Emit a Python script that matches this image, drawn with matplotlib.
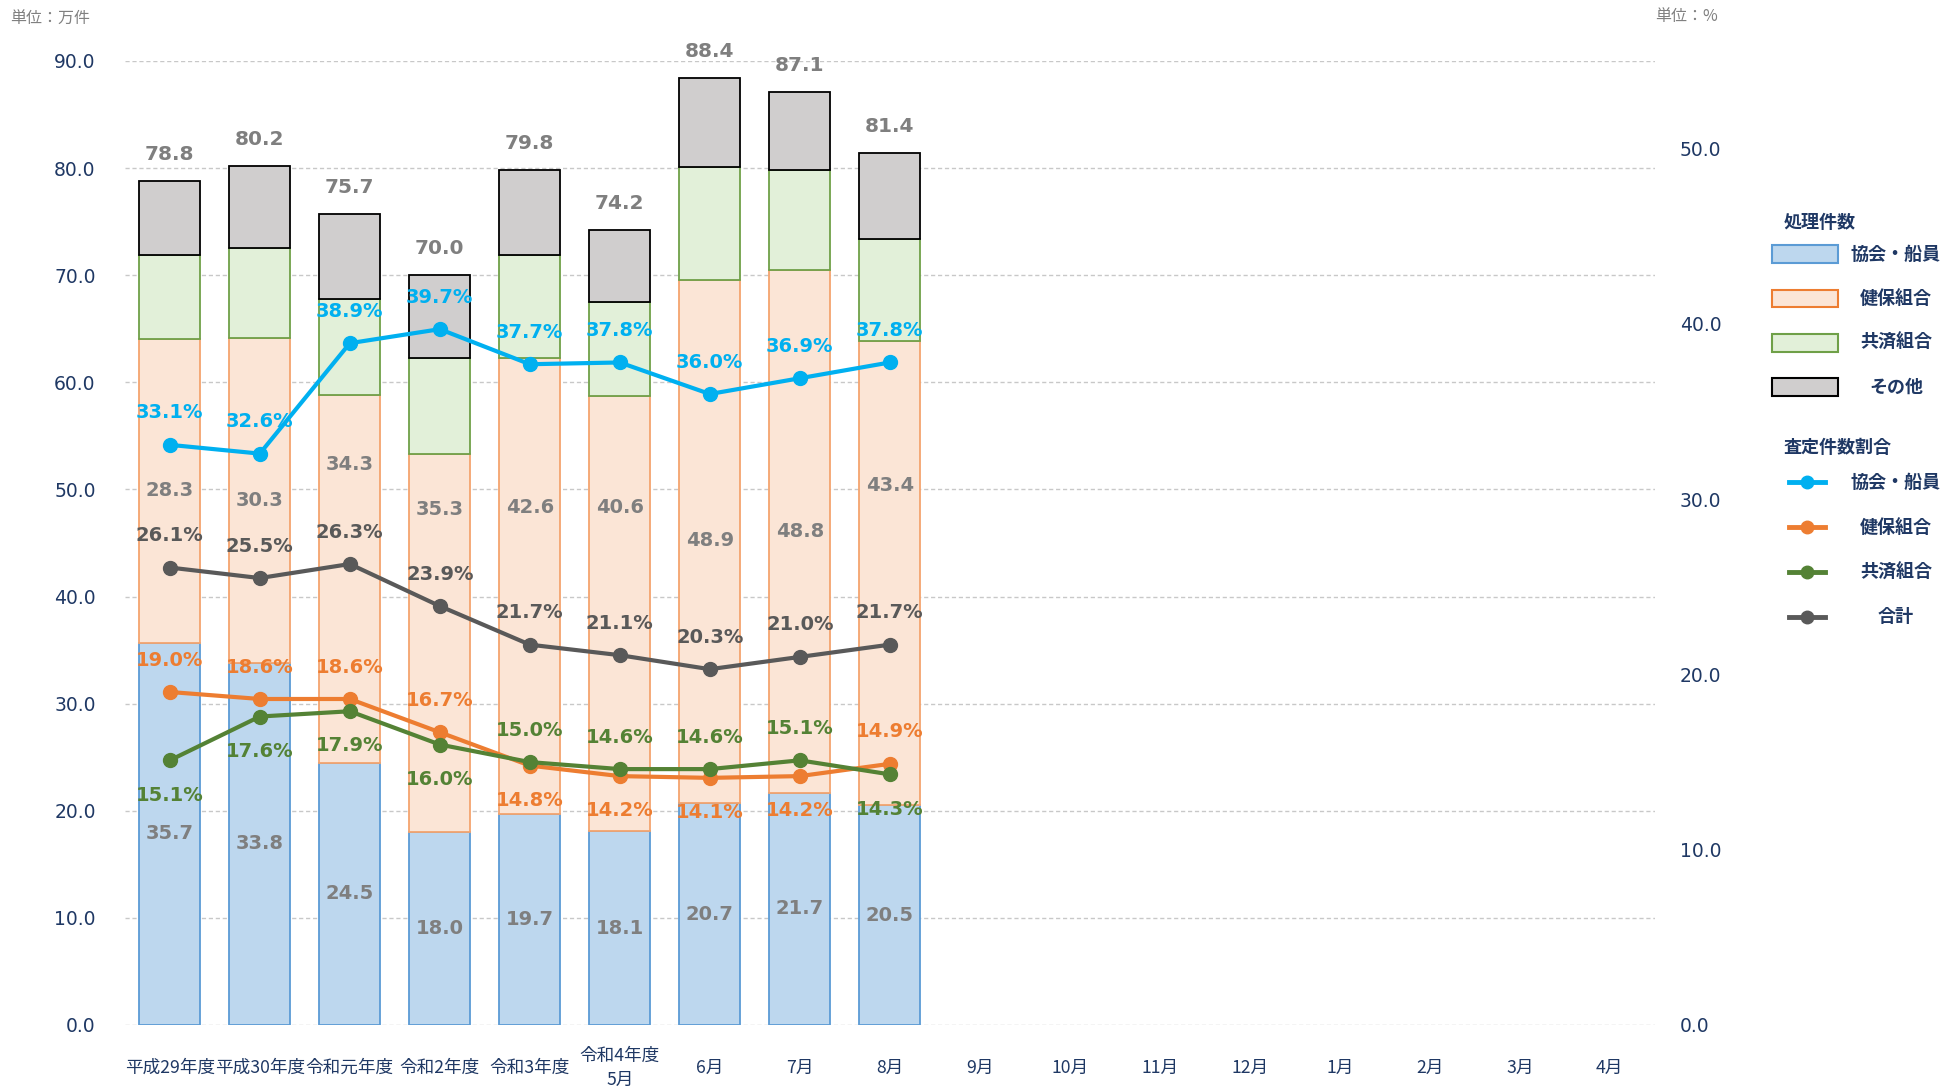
import numpy as np
import matplotlib.pyplot as plt
from matplotlib.patches import Rectangle
from matplotlib.lines import Line2D

plt.rcParams['font.family'] = ['DejaVu Sans', 'Noto Sans CJK JP']

categories = ['平成29年度', '平成30年度', '令和元年度', '令和2年度', '令和3年度',
              '令和4年度\n5月', '6月', '7月', '8月', '9月', '10月', '11月', '12月',
              '1月', '2月', '3月', '4月']

# 処理件数（万件）
kyokai = [35.7, 33.8, 24.5, 18.0, 19.7, 18.1, 20.7, 21.7, 20.5]
kenpo = [28.3, 30.3, 34.3, 35.3, 42.6, 40.6, 48.9, 48.8, 43.4]
kyosai = [7.9, 8.4, 9.0, 9.0, 9.6, 8.8, 10.5, 9.3, 9.5]
sonota = [6.9, 7.7, 7.9, 7.7, 7.9, 6.7, 8.3, 7.3, 8.0]

# 健保組合ラベルの高さ（元の図で手動で動かしてある）
kenpo_label_y = [49.9, 49.0, 52.3, 48.1, 48.3, 48.3, 45.2, 46.1, 50.4]

# 査定件数割合（%）
rate_kyokai = [33.1, 32.6, 38.9, 39.7, 37.7, 37.8, 36.0, 36.9, 37.8]
rate_kenpo = [19.0, 18.6, 18.6, 16.7, 14.8, 14.2, 14.1, 14.2, 14.9]
rate_kyosai = [15.1, 17.6, 17.9, 16.0, 15.0, 14.6, 14.6, 15.1, 14.3]
rate_total = [26.1, 25.5, 26.3, 23.9, 21.7, 21.1, 20.3, 21.0, 21.7]

# ラベルを点の上(1)に置くか下(-1)に置くか
side_kyokai = [1] * 9
side_kenpo = [1, 1, 1, 1, -1, -1, -1, -1, 1]
side_kyosai = [-1, -1, -1, -1, 1, 1, 1, 1, -1]
side_total = [1] * 9

NAVY = '#1F3864'
GRAY = '#7F7F7F'
W, H = 1941, 1088

fig = plt.figure(figsize=(W / 100, H / 100), dpi=100)
ax = fig.add_axes([124.8 / W, 63 / H, 1530 / W, 964 / H])

n = len(kyokai)
x = np.arange(n)

stacks = [
    (kyokai, '#BDD7EE', '#5B9BD5', '協会・船員'),
    (kenpo, '#FBE5D6', '#F4A46E', '健保組合'),
    (kyosai, '#E2F0D9', '#6FA048', '共済組合'),
    (sonota, '#D0CECE', '#000000', 'その他'),
]
bottom = np.zeros(n)
for vals, fc, ec, name in stacks:
    vals = np.array(vals)
    ax.bar(x, vals, 0.68, bottom=bottom, color=fc, edgecolor=ec,
           linewidth=1.3, zorder=2)
    if name == '協会・船員':
        for xi, b, v in zip(x, bottom, vals):
            ax.text(xi, b + v / 2, f'{v:.1f}', ha='center', va='center',
                    fontsize=14, fontweight='bold', color=GRAY, zorder=3)
    elif name == '健保組合':
        for xi, ly, v in zip(x, kenpo_label_y, vals):
            ax.text(xi, ly, f'{v:.1f}', ha='center', va='center',
                    fontsize=14, fontweight='bold', color=GRAY, zorder=3)
    bottom = bottom + vals

for xi, t in zip(x, bottom):
    ax.annotate(f'{t:.1f}', (xi, t), xytext=(0, 19), textcoords='offset points',
                ha='center', va='center', fontsize=14.5, fontweight='bold', color=GRAY)

ax.set_xlim(-0.5, len(categories) - 0.5)
ax.set_ylim(0, 90)
ax.set_yticks(np.arange(0, 91, 10))
ax.set_yticklabels([f'{v:.1f}' for v in np.arange(0, 91, 10)])
ax.set_xticks(np.arange(len(categories)))
ax.set_xticklabels(categories, family=['Noto Sans CJK JP'], fontsize=12.7,
                   color=NAVY, linespacing=1.4)
for lab in ax.get_xticklabels():
    lab.set_va('center')
ax.tick_params(axis='x', length=0, pad=31)
ax.tick_params(axis='y', length=0, pad=21, labelsize=13.5, labelcolor=NAVY)
ax.yaxis.grid(True, color='#C8C8C8', linestyle=(0, (3, 2)), linewidth=1.0, zorder=0)
ax.set_axisbelow(True)
for s in ax.spines.values():
    s.set_visible(False)

ax2 = ax.twinx()
ax2.set_ylim(0, 55)
ax2.set_yticks(np.arange(0, 51, 10))
ax2.set_yticklabels([f'{v:.1f}' for v in np.arange(0, 51, 10)])
ax2.tick_params(axis='y', length=0, pad=18, labelsize=13.5, labelcolor=NAVY)
for s in ax2.spines.values():
    s.set_visible(False)

lines = [
    (rate_kyokai, side_kyokai, '#00B0F0', '協会・船員'),
    (rate_kenpo, side_kenpo, '#ED7D31', '健保組合'),
    (rate_kyosai, side_kyosai, '#548235', '共済組合'),
    (rate_total, side_total, '#595959', '合計'),
]
for vals, side, col, name in lines:
    ax2.plot(x, vals, color=col, linewidth=3, marker='o', markersize=10, zorder=4)
    for xi, v, sd in zip(x, vals, side):
        ax2.annotate(f'{v:.1f}%', (xi, v), xytext=(0, 23 if sd > 0 else -25),
                     textcoords='offset points', ha='center', va='center',
                     fontsize=14, fontweight='bold', color=col, zorder=5)

# 単位
fig.text(10 / W, 1 - 19 / H, '単位：万件', ha='left', va='center', fontsize=11.5,
         color='#808080', family=['Noto Sans CJK JP'])
fig.text(1655 / W, 1 - 17 / H, '単位：%', ha='left', va='center', fontsize=11.5,
         color='#808080', family=['Noto Sans CJK JP'])

# 凡例
def fx(px):
    return px / W


def fy(py):
    return 1 - py / H


legend_font = dict(fontsize=13, fontweight='bold', color=NAVY,
                   family=['Noto Sans CJK JP'], va='center')
fig.text(fx(1784), fy(222.7), '処理件数', ha='left', **legend_font)
for i, (vals, fc, ec, name) in enumerate(stacks):
    yc = 254.3 + i * 44.2
    fig.add_artist(Rectangle((fx(1772), fy(yc + 8.8)), 66 / W, 17.7 / H,
                             transform=fig.transFigure, facecolor=fc,
                             edgecolor=ec if name != '健保組合' else '#ED7D31',
                             linewidth=1.5))
    fig.text(fx(1896), fy(yc), name, ha='center', **legend_font)

fig.text(fx(1784), fy(447.3), '査定件数割合', ha='left', **legend_font)
for i, (vals, side, col, name) in enumerate(lines):
    yc = 482.3 + i * 44.8
    fig.add_artist(Line2D([fx(1789), fx(1825)], [fy(yc), fy(yc)],
                          transform=fig.transFigure, color=col, linewidth=3.5))
    fig.add_artist(Line2D([fx(1807)], [fy(yc)], transform=fig.transFigure,
                          color=col, marker='o', markersize=9))
    fig.text(fx(1896), fy(yc), name, ha='center', **legend_font)

fig.savefig('out.png', dpi=100)
